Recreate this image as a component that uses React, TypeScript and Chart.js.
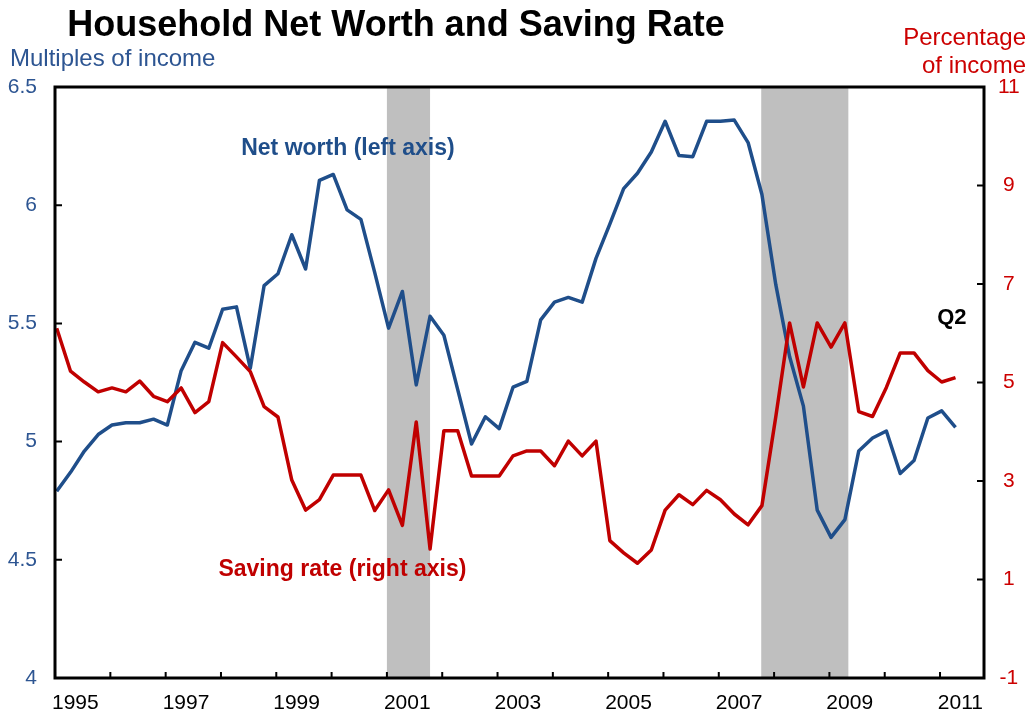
import React, { useEffect, useRef } from "react";
import { Chart, registerables } from "chart.js";

Chart.register(...registerables);

// ---- Data (quarterly, 1995Q1 – 2011Q2) ----
const startYear = 1995;
const quarterCount = 66;
const quarters: string[] = [];
for (let i = 0; i < quarterCount; i++) {
  quarters.push(`${startYear + Math.floor(i / 4)}Q${(i % 4) + 1}`);
}

// Net worth, multiples of disposable income (left axis)
const netWorth = [
  4.79, 4.87, 4.96, 5.03, 5.07, 5.08, 5.08, 5.095,
  5.07, 5.30, 5.42, 5.395, 5.56, 5.57, 5.31, 5.66,
  5.71, 5.875, 5.73, 6.105, 6.13, 5.98, 5.94, 5.715,
  5.48, 5.635, 5.24, 5.53, 5.45, 5.22, 4.99, 5.105,
  5.055, 5.23, 5.255, 5.515, 5.59, 5.61, 5.59, 5.775,
  5.92, 6.07, 6.135, 6.225, 6.355, 6.21, 6.205, 6.355,
  6.355, 6.36, 6.265, 6.045, 5.665, 5.36, 5.15, 4.71,
  4.595, 4.67, 4.96, 5.015, 5.045, 4.865, 4.92, 5.10,
  5.13, 5.06,
];

// Personal saving rate, percent of disposable income (right axis)
const savingRate = [
  6.10, 5.23, 5.01, 4.81, 4.89, 4.81, 5.03, 4.72,
  4.61, 4.89, 4.39, 4.61, 5.81, 5.52, 5.22, 4.51,
  4.30, 3.02, 2.41, 2.62, 3.12, 3.12, 3.12, 2.40,
  2.82, 2.10, 4.20, 1.62, 4.02, 4.02, 3.10, 3.10,
  3.10, 3.51, 3.61, 3.61, 3.31, 3.81, 3.51, 3.81,
  1.79, 1.54, 1.33, 1.60, 2.41, 2.72, 2.52, 2.81,
  2.62, 2.33, 2.11, 2.50, 4.30, 6.21, 4.91, 6.21,
  5.72, 6.21, 4.41, 4.31, 4.90, 5.60, 5.60, 5.24,
  5.01, 5.10,
];

// Year labels on the x axis
const yearLabels = ["1995", "1997", "1999", "2001", "2003", "2005", "2007", "2009", "2011"];

// Recessions, in quarter-index units
const recessionStart = [23.88, 50.95];
const recessionEnd = [27.0, 57.25];

// Axis tick values
const leftTicks = [4, 4.5, 5, 5.5, 6, 6.5];
const rightTicks = [-1, 1, 3, 5, 7, 9, 11];

const FONT = "'Liberation Sans', Arial, sans-serif";
const BLUE = "#1F4E8A";
const BLUE_TXT = "#2D5592";
const RED = "#C00000";
const RED_TXT = "#CC0000";

const X_MIN = -0.123;
const X_MAX = 67.06;
const yearTickPos = (k: number) => 4 * k - 0.12;
const labelPos = (k: number) => 1.35 + 8 * k;

const decor = {
  id: "decor",
  beforeDatasetsDraw(chart: any) {
    const { ctx, chartArea: a, scales } = chart;
    const x = scales.x;
    ctx.save();
    ctx.fillStyle = "#BFBFBF";
    recessionStart.forEach((s, k) => {
      const x0 = x.getPixelForValue(s);
      const x1 = x.getPixelForValue(recessionEnd[k]);
      ctx.fillRect(x0, a.top, x1 - x0, a.bottom - a.top);
    });
    ctx.restore();
  },
  afterDatasetsDraw(chart: any) {
    const { ctx, chartArea: a, scales } = chart;
    const { x, yL, yR } = scales;
    ctx.save();
    // tick marks (inward)
    ctx.strokeStyle = "#000";
    ctx.lineWidth = 2;
    ctx.beginPath();
    leftTicks.forEach((v) => {
      const py = yL.getPixelForValue(v);
      ctx.moveTo(a.left, py);
      ctx.lineTo(a.left + 7, py);
    });
    rightTicks.forEach((v) => {
      const py = yR.getPixelForValue(v);
      ctx.moveTo(a.right, py);
      ctx.lineTo(a.right - 7, py);
    });
    for (let k = 0; k <= 16; k++) {
      const px = x.getPixelForValue(yearTickPos(k));
      ctx.moveTo(px, a.bottom);
      ctx.lineTo(px, a.bottom - 6);
    }
    ctx.stroke();
    // frame
    ctx.lineWidth = 3;
    ctx.strokeRect(a.left, a.top, a.right - a.left, a.bottom - a.top);

    // in-plot annotations
    ctx.font = `bold 23px ${FONT}`;
    ctx.textAlign = "center";
    ctx.textBaseline = "middle";
    ctx.fillStyle = BLUE;
    ctx.fillText("Net worth (left axis)", x.getPixelForValue(21.06), yL.getPixelForValue(6.238));
    ctx.fillStyle = RED;
    ctx.fillText("Saving rate (right axis)", x.getPixelForValue(20.66), yR.getPixelForValue(1.2));
    ctx.fillStyle = "#000";
    ctx.font = `bold 22px ${FONT}`;
    ctx.fillText("Q2", x.getPixelForValue(64.74), yR.getPixelForValue(6.305));
    ctx.restore();
  },
  afterDraw(chart: any) {
    const { ctx } = chart;
    ctx.save();
    ctx.textBaseline = "alphabetic";
    ctx.fillStyle = "#000";
    ctx.font = `bold 36px ${FONT}`;
    ctx.textAlign = "center";
    ctx.fillText("Household Net Worth and Saving Rate", 396, 36);
    ctx.font = `24px ${FONT}`;
    ctx.textAlign = "left";
    ctx.fillStyle = BLUE_TXT;
    ctx.fillText("Multiples of income", 10, 66);
    ctx.textAlign = "right";
    ctx.fillStyle = RED_TXT;
    ctx.fillText("Percentage", 1026, 45);
    ctx.fillText("of income", 1026, 73);
    ctx.restore();
  },
};

export default function App() {
  const ref = useRef<HTMLCanvasElement | null>(null);
  useEffect(() => {
    if (!ref.current) return;
    const chart = new Chart(ref.current, {
      type: "line",
      data: {
        labels: quarters,
        datasets: [
          {
            label: "Saving rate (right axis)",
            data: savingRate.map((v, i) => ({ x: i, y: v })),
            yAxisID: "yR",
            borderColor: RED,
            borderWidth: 3.5,
            pointRadius: 0,
            tension: 0,
            borderJoinStyle: "round",
            fill: false,
          },
          {
            label: "Net worth (left axis)",
            data: netWorth.map((v, i) => ({ x: i, y: v })),
            yAxisID: "yL",
            borderColor: BLUE,
            borderWidth: 3.5,
            pointRadius: 0,
            tension: 0,
            borderJoinStyle: "round",
            fill: false,
          },
        ],
      },
      options: {
        animation: false,
        responsive: true,
        maintainAspectRatio: false,
        layout: { padding: { top: 87, left: 0, right: 0, bottom: 0 } },
        plugins: {
          legend: { display: false },
          tooltip: { enabled: false },
          title: { display: false },
        },
        scales: {
          x: {
            type: "linear",
            min: X_MIN,
            max: X_MAX,
            grid: { display: false, drawTicks: false },
            border: { display: false },
            afterBuildTicks: (scale: any) => {
              scale.ticks = yearLabels.map((_, k) => ({ value: labelPos(k) }));
            },
            afterFit: (scale: any) => {
              scale.height = 43;
            },
            ticks: {
              autoSkip: false,
              maxRotation: 0,
              minRotation: 0,
              padding: 13,
              color: "#000",
              font: { family: FONT, size: 21 },
              callback: (value: any) => {
                const k = Math.round((Number(value) - 1.35) / 8);
                return yearLabels[k] ?? "";
              },
            },
          },
          yL: {
            type: "linear",
            position: "left",
            min: 4,
            max: 6.5,
            grid: { display: false, drawTicks: false },
            border: { display: false },
            afterFit: (scale: any) => {
              scale.width = 55;
            },
            ticks: {
              stepSize: 0.5,
              padding: 18,
              color: BLUE_TXT,
              font: { family: FONT, size: 21 },
              callback: (value: any) => String(Number(value)),
            },
          },
          yR: {
            type: "linear",
            position: "right",
            min: -1,
            max: 11,
            grid: { display: false, drawTicks: false },
            border: { display: false },
            afterFit: (scale: any) => {
              scale.width = 50;
            },
            ticks: {
              stepSize: 2,
              padding: 14,
              crossAlign: "center",
              color: RED_TXT,
              font: { family: FONT, size: 21 },
              callback: (value: any) => String(Number(value)),
            },
          },
        },
      },
      plugins: [decor],
    });
    return () => chart.destroy();
  }, []);

  return (
    <div
      style={{
        position: "fixed",
        left: 0,
        top: 0,
        width: 1034,
        height: 721,
        background: "#fff",
      }}
    >
      <canvas ref={ref} />
    </div>
  );
}
